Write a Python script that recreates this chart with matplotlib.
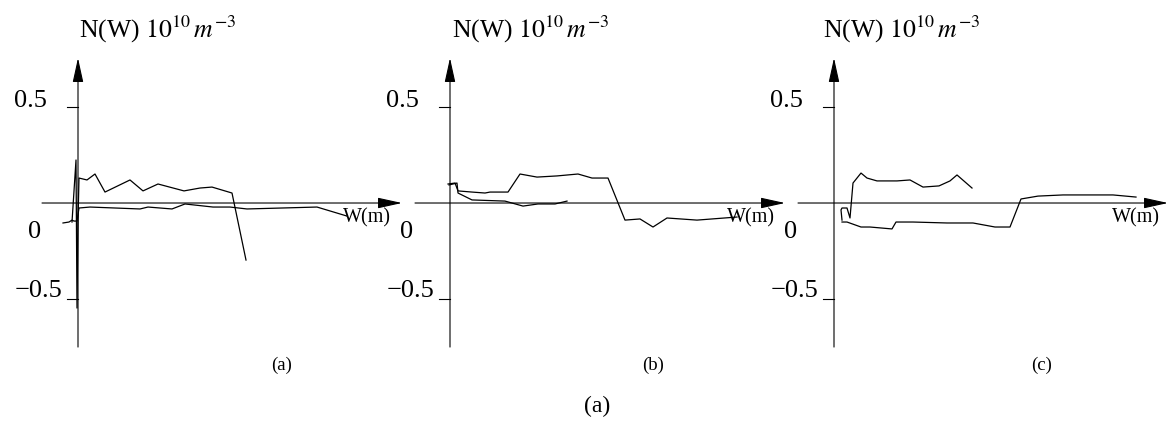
import matplotlib
matplotlib.use("Agg")
import matplotlib.pyplot as plt

plt.rcParams['font.family'] = ['Liberation Serif', 'DejaVu Serif']
plt.rcParams['mathtext.fontset'] = 'stix'

# data: W (arbitrary units along axis), N(W) in 1e10 m^-3
panel_names = ["(a)", "(b)", "(c)"]
y_ticks = [0.5, 0.0, -0.5]
y_tick_labels = ["0.5", "0", "\u22120.5"]

a1_w = [-0.06, -0.02, -0.01, 0.00, 0.01, 0.09, 0.17, 0.27, 0.52, 0.65, 0.80, 1.06, 1.22, 1.34, 1.54, 1.68]
a1_n = [-0.099, 0.224, -0.547, -0.094, 0.130, 0.120, 0.151, 0.057, 0.120, 0.063, 0.099, 0.063, 0.078, 0.083, 0.052, -0.297]
a2_w = [-0.15, -0.09, -0.06, -0.04, -0.01, 0.01, 0.12, 0.62, 0.70, 0.94, 1.07, 1.35, 1.52, 1.69, 2.39, 2.69]
a2_n = [-0.104, -0.099, -0.089, -0.094, -0.094, -0.026, -0.021, -0.031, -0.021, -0.031, -0.005, -0.021, -0.021, -0.031, -0.021, -0.068]

b1_w = [-0.02, 0.05, 0.08, 0.22, 0.35, 0.40, 0.58, 0.70, 0.87, 1.07, 1.28, 1.42, 1.58, 1.75, 1.90, 2.03, 2.17, 2.47, 2.87]
b1_n = [0.099, 0.104, 0.063, 0.057, 0.052, 0.057, 0.057, 0.151, 0.135, 0.141, 0.151, 0.130, 0.130, -0.089, -0.083, -0.125, -0.078, -0.089, -0.073]
b2_w = [-0.01, 0.07, 0.08, 0.22, 0.55, 0.73, 0.88, 1.05, 1.17]
b2_n = [0.094, 0.104, 0.052, 0.016, 0.010, -0.016, -0.005, -0.005, 0.010]

c1_w = [0.08, 0.07, 0.08, 0.13, 0.16, 0.19, 0.27, 0.33, 0.43, 0.63, 0.76, 0.89, 1.05, 1.16, 1.23, 1.38]
c1_n = [-0.089, -0.036, -0.026, -0.026, -0.078, 0.104, 0.156, 0.130, 0.115, 0.115, 0.120, 0.083, 0.089, 0.115, 0.146, 0.078]
c2_w = [0.08, 0.13, 0.27, 0.36, 0.58, 0.62, 0.79, 1.13, 1.39, 1.61, 1.76, 1.87, 2.04, 2.29, 2.79, 3.02]
c2_n = [-0.099, -0.099, -0.125, -0.125, -0.135, -0.099, -0.099, -0.104, -0.104, -0.125, -0.125, 0.021, 0.036, 0.042, 0.042, 0.031]

curves = [[(a1_w, a1_n), (a2_w, a2_n)],
          [(b1_w, b1_n), (b2_w, b2_n)],
          [(c1_w, c1_n), (c2_w, c2_n)]]

# layout (pixels of a 1169x421 canvas)
FIG_W, FIG_H = 1169, 421
AX_LEFT_PX = [0, 372, 756]
AX_W_PX = 423
XLIM = (-0.78, 3.45)
YLIM = (-1.135, 1.057)
X_AXIS_LEFT = [-0.36, -0.35, -0.36]
X_AXIS_TIP = [3.24, 3.35, 3.34]
TITLE_X = [0.01, 0.02, -0.11]
WM_X = [2.89, 3.01, 3.02]
NAME_X = [2.04, 2.03, 2.08]

ARROW = dict(arrowstyle="-|>,head_length=1.5,head_width=0.33", color='black',
             linewidth=0.8, mutation_scale=10, shrinkA=0, shrinkB=0)

fig = plt.figure(figsize=(FIG_W / 100, FIG_H / 100), dpi=100)
fig.patch.set_facecolor('white')

for i in range(3):
    ax = fig.add_axes([AX_LEFT_PX[i] / FIG_W, 0, AX_W_PX / FIG_W, 1])
    ax.set_xlim(*XLIM)
    ax.set_ylim(*YLIM)
    ax.axis('off')
    ax.patch.set_alpha(0)

    # axes with arrows
    ax.annotate("", xy=(X_AXIS_TIP[i], 0), xytext=(X_AXIS_LEFT[i], 0), arrowprops=ARROW)
    ax.annotate("", xy=(0, 0.755), xytext=(0, -0.75), arrowprops=ARROW)

    # ticks at +-0.5
    for t in (0.5, -0.5):
        ax.plot([-0.11, 0], [t, t], color='black', lw=0.8)

    ax.text(-0.31, 0.5, y_tick_labels[0], ha='right', va='baseline', fontsize=19)
    ax.text(-0.43, -0.182, y_tick_labels[1], ha='center', va='baseline', fontsize=19)
    ax.text(-0.16, -0.49, y_tick_labels[2], ha='right', va='baseline', fontsize=19)

    ax.text(TITLE_X[i], 0.86, r"N(W) $10^{10}\,m^{-3}$", ha='left', va='baseline', fontsize=18.5)
    ax.text(WM_X[i], -0.099, "W(m)", ha='center', va='baseline', fontsize=14.5)
    ax.text(NAME_X[i], -0.844, panel_names[i], ha='center', va='center', fontsize=13.5)

    for w, n in curves[i]:
        ax.plot(w, n, color='black', lw=0.9)

fig.text(597 / FIG_W, 1 - 406 / FIG_H, "(a)", ha='center', va='center', fontsize=17)

fig.savefig("out.png", dpi=100, facecolor='white')
